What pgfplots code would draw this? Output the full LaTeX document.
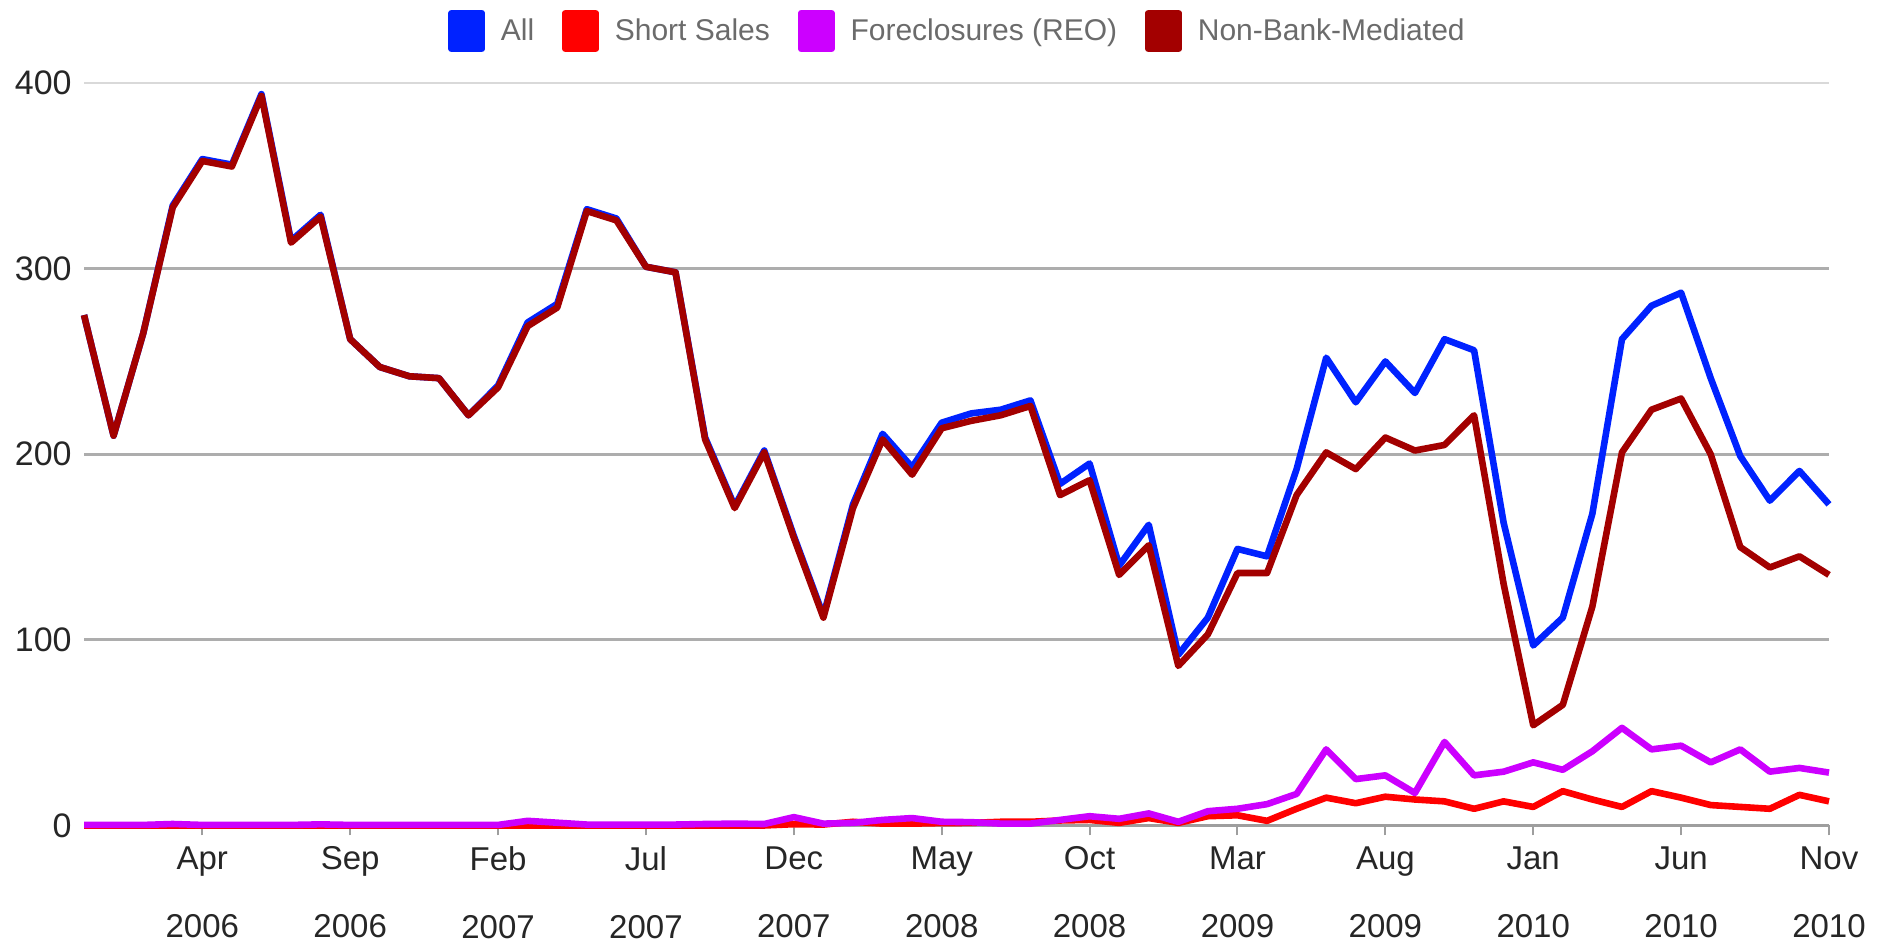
\documentclass[border=0pt]{standalone}
\usepackage{fontspec}
\setmainfont{Liberation Sans}
\usepackage{pgfplots}
\usepackage{pgfplotstable}
\pgfplotsset{compat=1.18}
\definecolor{cAll}{HTML}{0022FF}
\definecolor{cShort}{HTML}{FF0000}
\definecolor{cReo}{HTML}{CC00FF}
\definecolor{cNon}{HTML}{A30000}

% i: month index, 0 = Dec 2005 ... 59 = Nov 2010
\pgfplotstableread{
i all short reo non
0 275 0 0.3 275
1 210 0 0.3 210
2 265 0 0.3 265
3 334 0 0.8 333
4 359 0 0.3 358
5 356 0 0.3 355
6 394 0 0.3 393
7 315 0 0.3 314
8 329 0 0.6 328
9 262 0 0.3 262
10 247 0 0.3 247
11 242 0 0.3 242
12 241 0 0.3 241
13 221 0 0.3 221
14 237 0 0.3 236
15 271 0 2.5 269
16 281 0 1.5 279
17 332 0 0.5 331
18 327 0 0.5 326
19 301 0 0.5 301
20 298 0 0.5 298
21 209 0 0.8 208
22 172 0 1 171
23 202 0 0.8 201
24 156 0.7 4.5 155
25 113 0.5 1 112
26 173 2 1.4 171
27 211 1 3 208
28 193 1 4 189
29 217 1.3 2 214
30 222 1.4 1.8 218
31 224 2 1 221
32 229 2 1 226
33 184 2.7 3 178
34 195 3 5 186
35 140 1.4 3.6 135
36 162 4 6.5 151
37 92 1.4 2 86
38 112 5 7.7 103
39 149 5.5 9 136
40 145 2.5 11.5 136
41 192 9 17 178
42 252 15 41 201
43 228 12 25 192
44 250 15.5 27 209
45 233 14 17.5 202
46 262 13 45 205
47 256 9 27 221
48 163 13 29 130
49 97 10 34 54
50 112 18.5 30 65
51 168 14 40 118
52 262 10 52.6 201
53 280 18.5 41 224
54 287 15 43 230
55 241 11 34 200
56 199 10 41 150
57 175 9 29 139
58 191 16.5 31 145
59 173 13 28.5 135
}\datatable

\begin{document}
\begin{tikzpicture}
\useasboundingbox (0,0) rectangle (943.5pt,473pt);
\begin{axis}[
  at={(42pt,60.25pt)}, anchor=south west,
  scale only axis, width=872.5pt, height=371.25pt,
  xmin=0, xmax=59, ymin=0, ymax=400,
  clip=false,
  axis x line=bottom, axis y line=left,
  x axis line style={-, draw=black!38, line width=1.4pt},
  y axis line style={draw=none},
  ytick={0,100,200,300}, extra y ticks={400},
  ymajorgrids, grid style={draw=black!32, line width=1.4pt},
  extra y tick style={grid style={draw=black!15, line width=1.4pt}, tick style={draw=none}},
  ytick style={draw=none},
  yticklabel style={font=\fontsize{17}{18}\selectfont, text=black!85, anchor=east, inner sep=0pt, xshift=-1pt},
  /pgf/number format/assume math mode=true,
  xtick={4,9,14,19,24,29,34,39,44,49,54,59},
  xticklabels={{Apr\\[16pt]2006},{Sep\\[16pt]2006},{Feb\\[16pt]2007},{Jul\\[16pt]2007},{Dec\\[16pt]2007},{May\\[16pt]2008},{Oct\\[16pt]2008},{Mar\\[16pt]2009},{Aug\\[16pt]2009},{Jan\\[16pt]2010},{Jun\\[16pt]2010},{Nov\\[16pt]2010}},
  xticklabel style={align=center, font=\fontsize{16.5}{18}\selectfont, text=black!85, anchor=north, inner sep=0pt, yshift=-5.5pt},
  tick align=outside, major tick length=5pt,
  xtick style={draw=black!38, line width=1pt},
  legend columns=4,
  legend style={draw=none, fill=none, at={(0.5,1.07)}, anchor=center,
    font=\fontsize{15}{18}\selectfont, text=black!58,
    nodes={inner xsep=0pt, inner ysep=0pt},
    /tikz/every even column/.append style={column sep=14pt}},
  legend image code/.code={\fill[#1] (0pt,-9pt) rectangle (15pt,9pt); \path (23pt,0pt);},
  every axis plot/.append style={line width=3.3pt, line join=round, mark=none},
]
\addplot[color=cAll] table[x=i, y=all] {\datatable};
\addlegendentry{All}
\addplot[color=cShort] table[x=i, y=short] {\datatable};
\addlegendentry{Short Sales}
\addplot[color=cReo] table[x=i, y=reo] {\datatable};
\addlegendentry{Foreclosures (REO)}
\addplot[color=cNon] table[x=i, y=non] {\datatable};
\addlegendentry{Non-Bank-Mediated}
\end{axis}
\end{tikzpicture}
\end{document}
